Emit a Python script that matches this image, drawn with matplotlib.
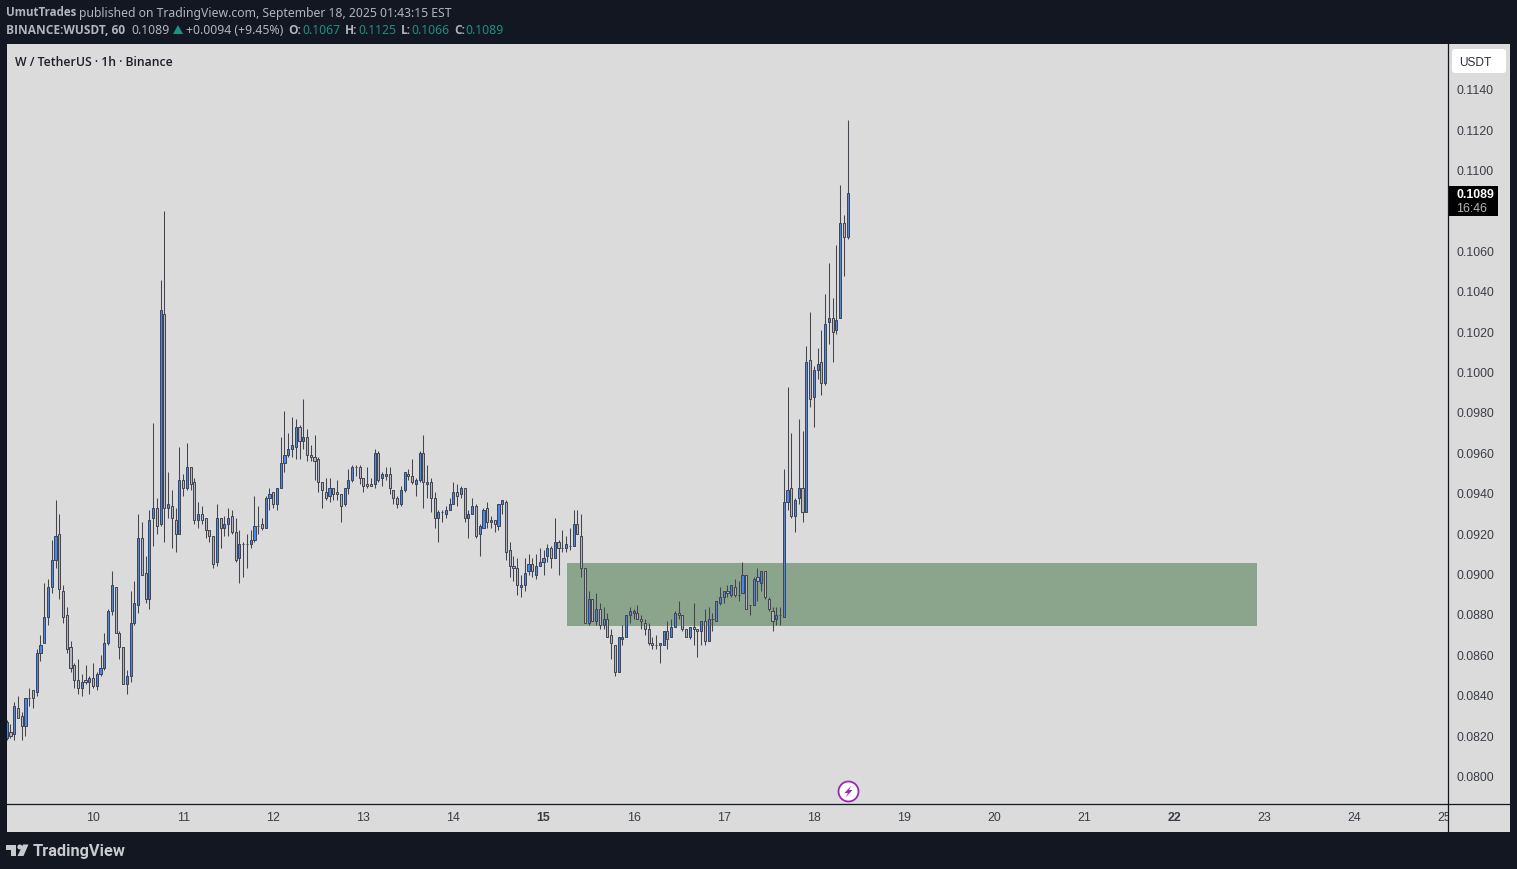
import numpy as np
import matplotlib
matplotlib.use('Agg')
import matplotlib.pyplot as plt
from matplotlib.patches import Circle, FancyBboxPatch, Polygon, Rectangle
from matplotlib.transforms import Bbox

# hourly W/USDT candles, in units of 0.0001 USDT
opens = [819, 822, 821, 834, 830, 825, 839, 843, 842, 861,
         866, 879, 894, 907, 920, 892, 880, 864, 855, 848,
         844, 848, 847, 849, 845, 851, 854, 866, 882, 894,
         871, 864, 846, 850, 876, 885, 918, 901, 888, 928,
         933, 925, 1029, 933, 934, 927, 920, 947, 943, 953,
         946, 927, 930, 928, 922, 919, 906, 928, 923, 925,
         929, 921, 908, 915, 915, 915, 917, 924, 925, 923,
         938, 941, 935, 943, 955, 959, 962, 963, 973, 966,
         968, 959, 958, 957, 946, 941, 939, 943, 941, 940,
         935, 943, 947, 953, 953, 948, 945, 945, 945, 960,
         948, 949, 950, 942, 938, 935, 942, 950, 949, 945,
         947, 960, 945, 946, 938, 928, 931, 930, 932, 935,
         941, 940, 943, 928, 930, 934, 920, 923, 933, 926,
         927, 924, 935, 936, 912, 904, 903, 894, 895, 902,
         905, 900, 904, 906, 909, 913, 908, 916, 913, 913,
         914, 914, 925, 919, 903, 876, 888, 877, 883, 875,
         878, 870, 865, 852, 868, 869, 880, 881, 881, 878,
         876, 873, 866, 865, 865, 865, 872, 869, 874, 881,
         880, 873, 869, 874, 873, 872, 877, 867, 878, 877,
         886, 889, 892, 890, 894, 890, 891, 900, 885, 885,
         899, 896, 902, 888, 882, 878, 880, 879, 936, 943,
         929, 938, 943, 931, 1006, 988, 1001, 1005, 995, 1025,
         1027, 1021, 1027, 1074, 1067]
closes = [827, 820, 835, 829, 825, 839, 839, 839, 861, 865,
          879, 894, 907, 919, 893, 879, 863, 854, 848, 844,
          847, 847, 849, 845, 851, 854, 866, 882, 895, 871,
          864, 846, 850, 876, 886, 918, 900, 888, 927, 933,
          924, 1031, 933, 935, 928, 920, 947, 943, 953, 945,
          927, 930, 927, 922, 919, 905, 928, 923, 925, 928,
          921, 907, 915, 915, 915, 917, 924, 924, 923, 938,
          940, 935, 943, 955, 959, 962, 964, 973, 966, 968,
          959, 958, 956, 946, 942, 938, 943, 940, 940, 934,
          943, 947, 953, 953, 948, 944, 944, 944, 960, 947,
          950, 950, 943, 938, 935, 942, 951, 949, 946, 947,
          960, 946, 946, 938, 928, 931, 931, 932, 935, 941,
          939, 943, 928, 930, 934, 919, 924, 932, 926, 927,
          925, 935, 937, 911, 904, 903, 895, 895, 901, 905,
          902, 904, 906, 908, 913, 908, 916, 913, 913, 915,
          914, 925, 920, 903, 876, 888, 877, 883, 875, 878,
          869, 866, 852, 869, 869, 880, 882, 882, 878, 877,
          873, 866, 865, 865, 866, 872, 868, 874, 881, 880,
          873, 869, 874, 873, 872, 877, 867, 878, 878, 887,
          889, 892, 891, 895, 890, 890, 900, 883, 885, 898,
          897, 902, 889, 883, 877, 880, 880, 936, 942, 929,
          937, 943, 931, 1005, 987, 1001, 1004, 995, 1024, 1027,
          1020, 1026, 1074, 1067, 1089]
highs = [828, 826, 837, 840, 832, 839, 844, 843, 863, 870,
         896, 898, 917, 937, 930, 895, 884, 867, 856, 858,
         851, 855, 850, 856, 852, 860, 871, 883, 902, 894,
         872, 864, 853, 892, 897, 930, 926, 909, 932, 975,
         938, 1046, 1080, 951, 942, 933, 963, 950, 965, 953,
         948, 936, 934, 928, 922, 919, 935, 928, 929, 933,
         932, 928, 922, 916, 920, 922, 939, 934, 928, 939,
         943, 941, 943, 968, 981, 970, 978, 977, 974, 987,
         972, 964, 969, 958, 946, 948, 948, 943, 947, 940,
         943, 952, 954, 954, 954, 948, 953, 948, 962, 961,
         951, 953, 953, 942, 939, 944, 951, 952, 957, 948,
         961, 969, 954, 948, 941, 932, 932, 934, 938, 946,
         945, 944, 943, 932, 938, 935, 925, 933, 936, 929,
         927, 935, 937, 937, 916, 909, 908, 900, 908, 910,
         908, 910, 913, 912, 915, 914, 928, 917, 922, 919,
         923, 932, 932, 930, 903, 892, 888, 891, 886, 884,
         881, 873, 865, 869, 875, 880, 884, 883, 885, 880,
         878, 876, 869, 870, 866, 872, 877, 878, 882, 887,
         880, 873, 874, 886, 873, 877, 883, 884, 881, 887,
         894, 892, 895, 895, 898, 897, 906, 900, 885, 899,
         903, 902, 902, 889, 884, 884, 884, 952, 993, 970,
         938, 977, 971, 1013, 1030, 1003, 1012, 1021, 1039, 1054,
         1037, 1063, 1093, 1078, 1125]
lows = [818, 819, 818, 829, 818, 820, 835, 834, 840, 857,
        866, 875, 891, 903, 888, 876, 861, 852, 844, 841,
        840, 846, 841, 844, 843, 850, 853, 865, 880, 871,
        858, 846, 841, 847, 875, 881, 900, 886, 883, 914,
        920, 924, 916, 928, 913, 911, 920, 939, 942, 942,
        925, 923, 925, 918, 916, 903, 904, 913, 919, 919,
        920, 906, 896, 899, 903, 913, 916, 920, 922, 923,
        932, 933, 932, 943, 951, 958, 958, 957, 957, 962,
        956, 956, 947, 941, 933, 937, 936, 937, 937, 926,
        934, 940, 946, 949, 945, 941, 943, 944, 943, 946,
        944, 947, 940, 935, 933, 934, 941, 947, 945, 939,
        946, 933, 938, 931, 923, 916, 926, 928, 932, 935,
        934, 938, 926, 918, 930, 918, 909, 923, 923, 923,
        921, 922, 930, 907, 899, 897, 890, 889, 892, 900,
        899, 898, 904, 900, 906, 903, 908, 900, 911, 911,
        912, 914, 920, 899, 876, 875, 877, 875, 873, 873,
        869, 858, 850, 852, 865, 869, 876, 878, 878, 873,
        870, 865, 863, 863, 856, 865, 863, 869, 874, 878,
        872, 869, 868, 865, 859, 865, 865, 867, 872, 877,
        885, 886, 889, 889, 889, 887, 891, 883, 880, 885,
        887, 892, 888, 882, 872, 875, 875, 879, 932, 928,
        921, 935, 926, 931, 983, 973, 997, 989, 994, 1014,
        1005, 1019, 1027, 1048, 1066]

day_labels = ['10', '11', '12', '13', '14', '15', '16', '17', '18', '19', '20', '21', '22', '23', '24', '25']
bold_days = ['15', '22']
first_day_bar = 23
bars_per_day = 24
price_ticks = [0.0800, 0.0820, 0.0840, 0.0860, 0.0880, 0.0900, 0.0920, 0.0940, 0.0960,
               0.0980, 0.1000, 0.1020, 0.1040, 0.1060, 0.1100, 0.1120, 0.1140]
zone_top = 0.09055
zone_bottom = 0.08745
zone_start = 149.2
zone_end = 333.0

W, H = 1517, 869
DARK = '#131722'
PANEL = '#dbdbdb'
UP = '#4189f7'
DOWN = '#b4b6bd'
EDGE = '#434651'
GREY_TEXT = '#b2b5be'
TEAL = '#1f8f84'
TICK_TEXT = '#3b3e47'
AXIS_FONT = 'Liberation Sans'
HEAD_FONT = 'Noto Sans'
BOLD_FONT = 'Open Sans'

fig = plt.figure(figsize=(W / 100, H / 100), dpi=100, facecolor=DARK)


def px_axes(x0, y0, x1, y1, **kw):
    return fig.add_axes([x0 / W, 1 - y1 / H, (x1 - x0) / W, (y1 - y0) / H], **kw)


# panel behind the chart
bg = px_axes(0, 0, W, H, zorder=0)
bg.set_xlim(0, W)
bg.set_ylim(H, 0)
bg.axis('off')
bg.add_patch(Rectangle((7, 44), 1503, 788, color=PANEL, lw=0))

# main chart
ax = px_axes(7, 44, 1448, 804, zorder=1)
ax.patch.set_alpha(0)
ax.set_xlim(0.08, 0.08 + 1441 / 3.754)
ax.set_ylim(0.078645, 0.116257)
for s in ax.spines.values():
    s.set_visible(False)

o = np.array(opens) / 10000
c = np.array(closes) / 10000
h = np.array(highs) / 10000
l = np.array(lows) / 10000
idx = np.arange(len(o))

ax.add_patch(Rectangle((zone_start, zone_bottom), zone_end - zone_start, zone_top - zone_bottom,
                       color='#8ba58d', lw=0, zorder=1))
ax.vlines(idx, l, h, color=EDGE, lw=0.75, zorder=2)
colors = [UP if c[i] > o[i] else DOWN for i in idx]
ax.bar(idx, np.abs(c - o), bottom=np.minimum(o, c), width=0.56, color=colors,
       edgecolor=EDGE, linewidth=0.72, zorder=3)

ax.yaxis.tick_right()
ax.set_yticks(price_ticks)
ax.set_yticklabels(['%.4f' % p for p in price_ticks], fontfamily=AXIS_FONT, fontsize=8.9, color=TICK_TEXT)
day_pos = [first_day_bar + bars_per_day * i for i in range(len(day_labels))]
ax.set_xticks(day_pos)
ax.set_xticklabels(day_labels, fontfamily=AXIS_FONT, fontsize=8.9, color=TICK_TEXT)
ax.tick_params(axis='y', length=0, pad=6.2)
ax.tick_params(axis='x', length=0, pad=5.5)
clip = Bbox([[0, 0], [1448, H]])
for lab in ax.get_xticklabels():
    if lab.get_text() in bold_days:
        lab.set_fontweight('bold')
    lab.set_clip_box(clip)
    lab.set_clip_on(True)

# header, frame lines, price tag, logo
top = px_axes(0, 0, W, H, zorder=2)
top.set_xlim(0, W)
top.set_ylim(H, 0)
top.axis('off')
top.patch.set_alpha(0)
top.plot([1448.5, 1448.5], [44, 832], color=DARK, lw=0.9)
top.plot([7, 1510], [804, 804], color=DARK, lw=0.9)


def label(x, y, s, color=GREY_TEXT, weight='normal', size=8.8, family=HEAD_FONT, ha='left'):
    top.text(x, y, s, color=color, fontweight=weight, fontsize=size, family=family, ha=ha, va='center')


label(6, 13, 'UmutTrades', weight='bold', family=BOLD_FONT, size=8.3)
label(79, 13, 'published on TradingView.com, September 18, 2025 01:43:15 EST')
label(6, 30, 'BINANCE:WUSDT, 60', weight='bold', family=BOLD_FONT, size=8.6)
label(131, 30, '0.1089')
top.add_patch(Polygon([[173, 34], [183, 34], [178, 25]], color=TEAL, lw=0))
label(186, 30, '+0.0094 (+9.45%)')
for x, s, is_key in [(288, 'O:', True), (302, '0.1067', False), (345, 'H:', True), (358, '0.1125', False),
                     (401, 'L:', True), (411, '0.1066', False), (454, 'C:', True), (465, '0.1089', False)]:
    if is_key:
        label(x, 30, s, weight='bold', family=BOLD_FONT, size=8.6)
    else:
        label(x, 30, s, color=TEAL)
label(15, 62, 'W / TetherUS · 1h · Binance', color='#1c1f28', weight='semibold', size=8.8, family=BOLD_FONT)

top.add_patch(FancyBboxPatch((1454, 51), 50, 20, boxstyle='round,pad=2,rounding_size=3', color='white', lw=0))
label(1475, 62.5, 'USDT', color='#2a2e39', size=8.6, family=AXIS_FONT, ha='center')

top.add_patch(Rectangle((1449, 186), 49, 30, color='black', lw=0))
label(1475, 194.5, '0.1089', color='white', weight='bold', size=8.9, family=AXIS_FONT, ha='center')
label(1472, 208.5, '16:46', color='#b8b8b8', size=8.9, family=AXIS_FONT, ha='center')

# lightning badge
top.add_patch(Circle((848.5, 791.5), 11.5, color=PANEL, lw=0))
top.add_patch(Circle((848.5, 791.5), 10, fc='white', ec='#9c27b0', lw=1.3))
top.add_patch(Polygon([[851.5, 785.5], [844.5, 793], [848, 793], [845.5, 797.5], [852.5, 790], [849, 790]],
                      color='#9c27b0', lw=0))

# TradingView logo
logo = '#c8cad0'
top.add_patch(Polygon([[6, 844.5], [16.5, 844.5], [16.5, 856], [11, 856], [11, 849.5], [6, 849.5]], color=logo, lw=0))
top.add_patch(Circle((19.8, 847), 2.5, color=logo, lw=0))
top.add_patch(Polygon([[23, 844.5], [28.5, 844.5], [23.5, 856], [17.5, 856]], color=logo, lw=0))
label(33, 851.5, 'TradingView', color=logo, weight='bold', size=11.8, family='Roboto')

fig.savefig('out.png', dpi=100, facecolor=DARK)
